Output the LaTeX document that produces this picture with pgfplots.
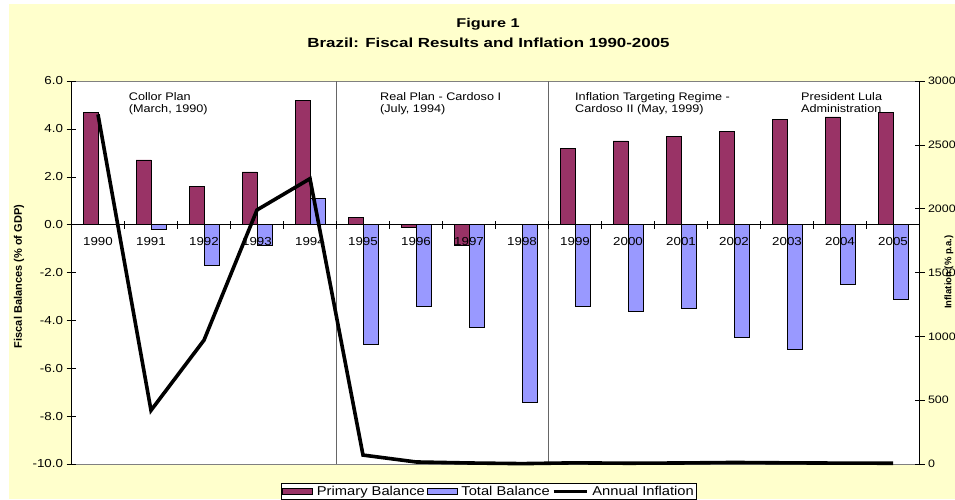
\documentclass[border=0pt]{standalone}
\usepackage{fontspec}
\setmainfont{Liberation Sans}[FakeStretch=1.15]
\newfontfamily\plainsans{Liberation Sans}
\newfontfamily\titlesans{Liberation Sans}[FakeStretch=1.28]
\usepackage{pgfplots}
\pgfplotsset{compat=1.18}

\definecolor{primary}{HTML}{993366}
\definecolor{total}{HTML}{9999FF}
\definecolor{chartbg}{HTML}{FFFFCC}

\pgfplotsset{
  barleg/.style={legend image code/.code={\draw[##1, line width=0.5pt] (0pt,-2.8pt) rectangle (30pt,2.8pt);}},
  lineleg/.style={legend image code/.code={\draw[##1] (0pt,0pt) -- (33pt,0pt);}},
}

\begin{document}
\begin{tikzpicture}
\useasboundingbox (0pt,0pt) rectangle (955pt,499pt);
\fill[white] (0pt,0pt) rectangle (955pt,499pt);
\fill[chartbg] (9pt,0pt) rectangle (955pt,495pt);
\fill[white] (71.5pt,35pt) rectangle (919.5pt,418pt);
\draw[black!50] (71.5pt,418pt) -- (919.5pt,418pt);
\draw[black!50] (71.5pt,35pt) -- (919.5pt,35pt);
\draw[black!60] (336.5pt,35pt) -- (336.5pt,418pt);
\draw[black!60] (548.5pt,35pt) -- (548.5pt,418pt);

% titles
\node[font=\titlesans\bfseries\fontsize{12.7}{15}\selectfont] at (488pt,474.5pt) {Figure 1};
\node[font=\titlesans\bfseries\fontsize{13.2}{15}\selectfont] at (488.5pt,456pt) {Brazil: Fiscal Results and Inflation 1990-2005};

% period annotations
\begin{scope}[every node/.style={anchor=base west, inner sep=0pt, font=\fontsize{11}{12}\selectfont}]
\node at (128.7pt,398.3pt) {Collor Plan};
\node at (128.7pt,386.6pt) {(March, 1990)};
\node at (380pt,398.3pt) {Real Plan - Cardoso I};
\node at (380pt,386.6pt) {(July, 1994)};
\node at (575pt,398.3pt) {Inflation Targeting Regime -};
\node at (575pt,386.6pt) {Cardoso II (May, 1999)};
\node at (801pt,398.3pt) {President Lula};
\node at (801pt,386.6pt) {Administration};
\end{scope}

% axis titles
\node[rotate=90, font=\plainsans\bfseries\fontsize{11}{13}\selectfont] at (19pt,222.5pt) {Fiscal Balances (\% of GDP)};
\node[rotate=90, font=\plainsans\bfseries\fontsize{9.5}{11}\selectfont] at (949pt,227pt) {Inflation (\% p.a.)};

\begin{axis}[
  at={(71.5pt,35pt)}, anchor=south west,
  scale only axis, width=848pt, height=383pt,
  xmin=-0.5, xmax=15.5, ymin=-10, ymax=6,
  ybar=0pt, bar width=15pt,
  axis x line=middle, axis y line=left,
  axis line style={-, black},
  every inner x axis line/.append style={-},
  every outer y axis line/.append style={-},
  axis on top,
  xtick={0,...,15},
  xticklabels={1990,1991,1992,1993,1994,1995,1996,1997,1998,1999,2000,2001,2002,2003,2004,2005},
  minor xtick={-0.5,0.5,...,15.5},
  major x tick style={draw=none},
  minor tick length=8pt,
  ytick={-10,-8,...,6},
  yticklabels={-10.0,-8.0,-6.0,-4.0,-2.0,0.0,2.0,4.0,6.0},
  major tick length=10pt,
  tick align=center,
  tick style={black, line width=0.5pt},
  hide obscured x ticks=false, hide obscured y ticks=false,
  xticklabel style={font=\fontsize{11.6}{13}\selectfont, yshift=-4pt},
  yticklabel style={font=\fontsize{11.6}{13}\selectfont},
  clip=false,
]
\addplot[fill=primary, draw=black, line width=0.5pt] coordinates {
  (0,4.7) (1,2.7) (2,1.6) (3,2.2) (4,5.2) (5,0.3) (6,-0.1) (7,-0.85)
  (8,0.0) (9,3.2) (10,3.5) (11,3.7) (12,3.9) (13,4.4) (14,4.5) (15,4.7)};
\addplot[fill=total, draw=black, line width=0.5pt] coordinates {
  (0,0.0) (1,-0.2) (2,-1.7) (3,-0.85) (4,1.1) (5,-5.0) (6,-3.4) (7,-4.3)
  (8,-7.4) (9,-3.4) (10,-3.6) (11,-3.5) (12,-4.7) (13,-5.2) (14,-2.5) (15,-3.1)};
\end{axis}

\begin{axis}[
  at={(71.5pt,35pt)}, anchor=south west,
  scale only axis, width=848pt, height=383pt,
  xmin=-0.5, xmax=15.5, ymin=0, ymax=3000,
  axis x line=none, axis y line*=right,
  axis line style={-, black},
  every outer y axis line/.append style={-},
  ytick={0,500,...,3000},
  yticklabels={0,500,1000,1500,2000,2500,3000},
  major tick length=10pt, tick align=center,
  tick style={black, line width=0.5pt},
  yticklabel style={font=\fontsize{10.8}{13}\selectfont},
  clip=false,
  legend columns=3,
  legend cell align=left,
  legend style={at={(0.4925,0)}, anchor=north, yshift=-19pt, draw=black, fill=white,
    inner sep=0.8pt, font=\fontsize{12.8}{14}\selectfont,
    /tikz/every odd column/.append style={column sep=2pt}},
]
\addlegendimage{barleg, fill=primary, draw=black}
\addlegendentry{Primary Balance}
\addlegendimage{barleg, fill=total, draw=black}
\addlegendentry{Total Balance}
\addplot[black, line width=3.6pt, lineleg] coordinates {
  (0,2738) (1,420) (2,970) (3,1990) (4,2235) (5,70) (6,16) (7,8)
  (8,3) (9,9) (10,6) (11,8) (12,12) (13,9) (14,7) (15,6)};
\addlegendentry{Annual Inflation}
\end{axis}
\end{tikzpicture}
\end{document}
